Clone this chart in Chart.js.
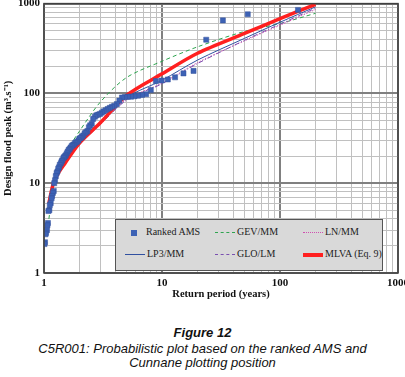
<!DOCTYPE html>
<html lang="en">
<head>
    <meta charset="UTF-8">
    <title>Figure 12</title>
    <style>
        body {
            margin: 0;
            background: #ffffff;
            width: 405px;
            height: 377px;
            overflow: hidden;
            position: relative;
        }

        #chart-wrap {
            position: absolute;
            left: 0;
            top: -7px;
            width: 413px;
            height: 313px;
        }

        #legend {
            position: absolute;
            left: 115px;
            top: 219px;
            width: 266px;
            height: 50px;
            background: #d9d9d9;
            border: 1.5px solid #555555;
            font-family: "Liberation Serif", "Times New Roman", serif;
            font-size: 10px;
            color: #222;
        }

        .item {
            position: absolute;
            height: 12px;
            line-height: 12px;
            white-space: nowrap;
        }

        .sample {
            display: inline-block;
            width: 20px;
            vertical-align: middle;
            margin-right: 2px;
        }

        .caption {
            position: absolute;
            left: 0;
            width: 405px;
            text-align: center;
            font-family: "Liberation Sans", Arial, sans-serif;
            font-style: italic;
            font-size: 13px;
            color: #111;
        }
    </style>
</head>
<body>
    <div id="chart-wrap"><canvas id="flood-chart"></canvas></div>

    <div id="legend">
        <div class="item" style="left:15px; top:6px;">
            <span class="sample" style="width:6px; height:6px; background:#3d62b5; margin-right:9px;"></span>Ranked AMS
        </div>
        <div class="item" style="left:99px; top:6px;">
            <span class="sample" style="border-top:1px dashed #2ea44f;"></span>GEV/MM
        </div>
        <div class="item" style="left:187px; top:6px;">
            <span class="sample" style="border-top:1px dotted #d050b0;"></span>LN/MM
        </div>
        <div class="item" style="left:9px; top:28px;">
            <span class="sample" style="border-top:1px solid #3050a0;"></span>LP3/MM
        </div>
        <div class="item" style="left:99px; top:28px;">
            <span class="sample" style="border-top:1px dashed #7a50b0;"></span>GLO/LM
        </div>
        <div class="item" style="left:187px; top:28px;">
            <span class="sample" style="border-top:4px solid #ff2020;"></span>MLVA (Eq. 9)
        </div>
    </div>

    <div class="caption" style="top:325px; font-weight:bold;">Figure 12</div>
    <div class="caption" style="top:341px;">C5R001: Probabilistic plot based on the ranked AMS and</div>
    <div class="caption" style="top:355px;">Cunnane plotting position</div>

    <script src="https://cdn.jsdelivr.net/npm/chart.js"></script>
    <script>
        // ranked annual maximum series (Cunnane plotting position, return period in years)
        const amsT = [142, 53.3, 32.8, 23.7, 18.5, 15.2, 12.9, 11.2, 9.93, 8.88,
            8.04, 7.34, 6.76, 6.26, 5.84, 5.46, 5.14, 4.84, 4.58, 4.35,
            4.14, 3.94, 3.77, 3.61, 3.46, 3.33, 3.20, 3.09, 2.98, 2.88,
            2.78, 2.70, 2.61, 2.54, 2.46, 2.40, 2.33, 2.27, 2.21, 2.15,
            2.10, 2.05, 2.00, 1.96, 1.91, 1.87, 1.83, 1.79, 1.75, 1.72,
            1.68, 1.65, 1.62, 1.59, 1.56, 1.53, 1.51, 1.48, 1.46, 1.43,
            1.41, 1.39, 1.36, 1.34, 1.32, 1.30, 1.28, 1.26, 1.24, 1.22,
            1.21, 1.19, 1.17, 1.16, 1.14, 1.12, 1.11, 1.09, 1.08, 1.07,
            1.06, 1.04, 1.03, 1.02, 1.01];
        const amsQ = [850, 760, 650, 396, 178, 167, 151, 143, 139, 137,
            109, 98, 96, 94, 93, 92, 92, 91, 90, 83,
            76, 73, 71, 69, 67, 65, 63, 61, 59, 58,
            57, 55, 52, 46, 44, 42, 38, 37, 36, 34,
            33, 32, 31.5, 30, 29, 28.5, 28, 27, 26.5, 26,
            25, 24, 23.5, 22.5, 21.5, 20.5, 20, 19.5, 19, 18,
            17.5, 16.7, 16, 15, 14.5, 13.5, 13, 12, 10.8, 10,
            8.2, 7.8, 7.2, 6.8, 6, 5.7, 5, 4.9, 3.6, 3.4,
            3.0, 2.8, 2.7, 2.2, 2.1];

        // fitted distributions
        const curveT = [1.1, 1.2, 1.3, 1.5, 2, 3, 5, 10, 20, 50, 100, 200];
        const gevMM  = [4, 9, 13, 21, 38, 80, 150, 228, 330, 490, 600, 780];
        const lnMM   = [5, 9, 12.5, 17, 28, 47, 86, 130, 220, 385, 575, 860];
        const lp3MM  = [5.5, 9.5, 12.5, 17, 28.5, 48, 90, 140, 235, 410, 620, 920];
        const gloLM  = [5, 9, 12, 16.5, 27, 45, 84, 128, 215, 390, 590, 890];
        const mlva   = [6, 10, 12.5, 16.5, 28, 47, 95, 165, 280, 465, 680, 980];

        const decades = [1, 10, 100];
        const logTicks = [];
        decades.forEach(d => { for (let s = 1; s < 10; s++) logTicks.push(s * d); });
        logTicks.push(1000);

        function isDecade(v) {
            const l = Math.log10(v);
            return Math.abs(l - Math.round(l)) < 1e-9;
        }

        function pts(xs, ys) {
            return xs.map((x, i) => ({ x: x, y: ys[i] }));
        }

        function curve(label, ys, color, width, dash) {
            return {
                label: label,
                data: pts(curveT, ys),
                showLine: true,
                borderColor: color,
                borderWidth: width,
                borderDash: dash,
                pointRadius: 0,
                tension: 0.3,
                fill: false
            };
        }

        const tickFont = { family: '"Liberation Serif", "Times New Roman", serif', size: 11, weight: 'bold' };

        const frame = {
            id: 'frame',
            afterDraw(chart) {
                const a = chart.chartArea;
                const ctx = chart.ctx;
                ctx.save();
                ctx.strokeStyle = '#404040';
                ctx.lineWidth = 1.5;
                ctx.strokeRect(a.left, a.top, a.right - a.left, a.bottom - a.top);
                ctx.restore();
            }
        };

        function axis(titleText, isX) {
            return {
                type: 'logarithmic',
                min: 1,
                max: 1000,
                afterBuildTicks: scale => { scale.ticks = logTicks.map(v => ({ value: v })); },
                afterFit: scale => {
                    if (isX) scale.height = 33;
                    else scale.width = 44;
                },
                grid: {
                    drawTicks: false,
                    color: c => (c.tick && isDecade(c.tick.value)) ? '#808080' : '#c0c0c0',
                    lineWidth: c => (c.tick && isDecade(c.tick.value)) ? 2 : 1
                },
                border: { display: false },
                ticks: {
                    autoSkip: false,
                    maxRotation: 0,
                    padding: 4,
                    color: '#111',
                    font: tickFont,
                    callback: v => isDecade(v) ? String(Math.round(v)) : ''
                },
                title: {
                    display: true,
                    text: titleText,
                    color: '#111',
                    font: { family: '"Liberation Serif", "Times New Roman", serif', size: 10.5, weight: 'bold' },
                    padding: isX ? { top: 0, bottom: 5 } : { top: 1.5, bottom: 0 }
                }
            };
        }

        const ctx = document.getElementById('flood-chart').getContext('2d');
        new Chart(ctx, {
            type: 'scatter',
            data: {
                datasets: [
                    {
                        label: 'Ranked AMS',
                        data: pts(amsT, amsQ),
                        pointStyle: 'rect',
                        pointRadius: 3.6,
                        backgroundColor: '#3d62b5',
                        borderColor: '#34539c',
                        borderWidth: 0.5
                    },
                    curve('MLVA (Eq. 9)', mlva, '#ff2020', 3.5, []),
                    curve('GLO/LM', gloLM, '#7a50b0', 1, [5, 2, 1, 2]),
                    curve('LP3/MM', lp3MM, '#3050a0', 1, []),
                    curve('LN/MM', lnMM, '#d050b0', 1, [1.5, 1.5]),
                    curve('GEV/MM', gevMM, '#2ea44f', 1, [4, 3])
                ]
            },
            options: {
                responsive: true,
                maintainAspectRatio: false,
                animation: false,
                layout: { padding: { left: 0, right: 0, top: 0, bottom: 0 } },
                plugins: {
                    legend: { display: false },
                    tooltip: { enabled: false }
                },
                scales: {
                    x: axis('Return period (years)', true),
                    y: axis('Design flood peak (m³.s⁻¹)', false)
                }
            },
            plugins: [frame]
        });
    </script>
</body>
</html>
